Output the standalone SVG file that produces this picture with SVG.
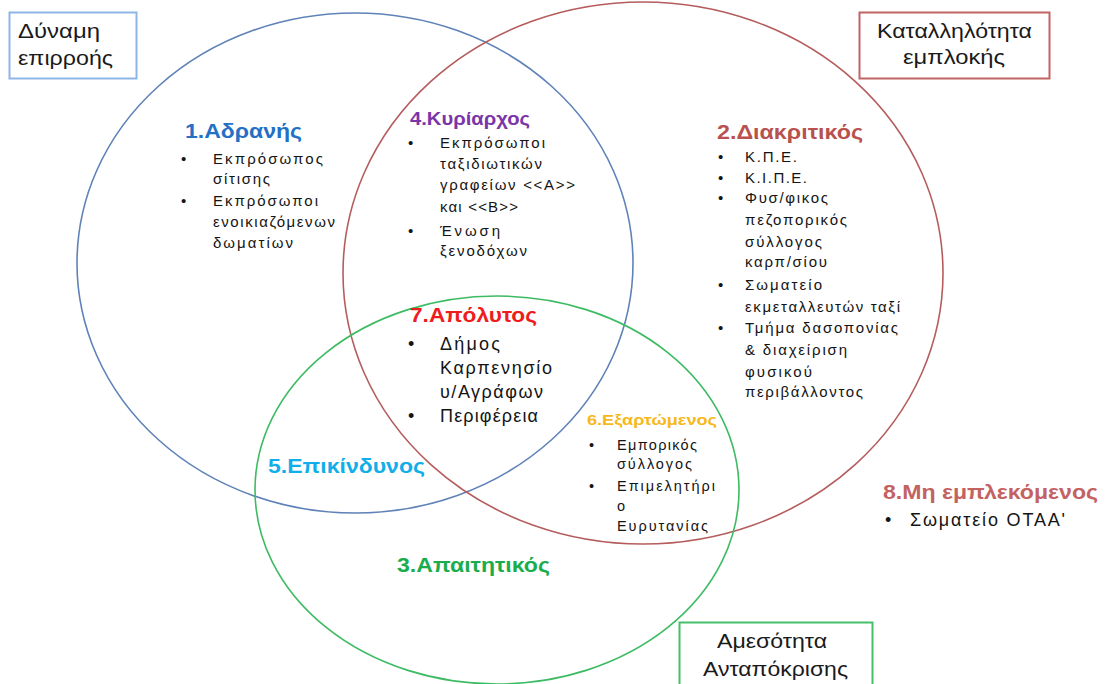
<svg xmlns="http://www.w3.org/2000/svg" width="1107" height="684" viewBox="0 0 1107 684">
  <style>
    text { font-family: "Liberation Sans", Arial, sans-serif; }
    .ring { fill: none; stroke-width: 1.6; }
    .box { fill: #ffffff; stroke-width: 2; }
    .boxtxt { font-size: 20px; fill: #1a1a1a; }
    .title { font-weight: bold; }
    .body { fill: #141414; }
    .b15 { font-size: 15px; }
    .b14 { font-size: 14.5px; }
    .b18 { font-size: 18px; }
  </style>
  <rect width="1107" height="684" fill="#ffffff"/>

  <!-- the three overlapping attribute sets -->
  <g id="sets">
    <ellipse id="set-power" class="ring" cx="355" cy="263" rx="278" ry="250" stroke="#5f82b8"/>
    <ellipse id="set-legitimacy" class="ring" cx="643" cy="273" rx="300" ry="271" stroke="#b55d5d"/>
    <ellipse id="set-urgency" class="ring" cx="497" cy="490" rx="242" ry="194" stroke="#3dbb62"/>
  </g>

  <!-- attribute captions -->
  <g id="caption-power">
    <rect class="box" x="9.5" y="12.5" width="127" height="66" stroke="#8db6e8"/>
    <text class="boxtxt" x="18" y="38" textLength="82" lengthAdjust="spacingAndGlyphs">Δύναμη</text>
    <text class="boxtxt" x="18" y="65" textLength="95" lengthAdjust="spacingAndGlyphs">επιρροής</text>
  </g>
  <g id="caption-legitimacy">
    <rect class="box" x="859.5" y="12.5" width="190" height="66" stroke="#c06464"/>
    <text class="boxtxt" x="877" y="38" textLength="155" lengthAdjust="spacingAndGlyphs">Καταλληλότητα</text>
    <text class="boxtxt" x="903" y="64" textLength="102" lengthAdjust="spacingAndGlyphs">εμπλοκής</text>
  </g>
  <g id="caption-urgency">
    <rect class="box" x="679.5" y="622.5" width="193" height="80" stroke="#45bf6a"/>
    <text class="boxtxt" x="717" y="648" textLength="110" lengthAdjust="spacingAndGlyphs">Αμεσότητα</text>
    <text class="boxtxt" x="703" y="676" textLength="145" lengthAdjust="spacingAndGlyphs">Ανταπόκρισης</text>
  </g>

  <!-- 1: power only -->
  <g id="dormant">
    <text class="title" x="185" y="138" font-size="21" fill="#2370c4" textLength="117" lengthAdjust="spacingAndGlyphs">1.Αδρανής</text>
    <g class="body b15">
      <text x="181" y="164">•</text>
      <text x="213" y="164" textLength="110" lengthAdjust="spacing">Εκπρόσωπος</text>
      <text x="213" y="184" textLength="57" lengthAdjust="spacing">σίτισης</text>
      <text x="181" y="206">•</text>
      <text x="213" y="206" textLength="105" lengthAdjust="spacing">Εκπρόσωποι</text>
      <text x="213" y="227" textLength="122" lengthAdjust="spacing">ενοικιαζόμενων</text>
      <text x="213" y="248" textLength="80" lengthAdjust="spacing">δωματίων</text>
    </g>
  </g>

  <!-- 2: legitimacy only -->
  <g id="discretionary">
    <text class="title" x="717" y="139" font-size="20" fill="#b9524e" textLength="146" lengthAdjust="spacingAndGlyphs">2.Διακριτικός</text>
    <g class="body b15">
      <text x="718" y="162">•</text>
      <text x="745" y="162" textLength="52" lengthAdjust="spacing">Κ.Π.Ε.</text>
      <text x="718" y="183">•</text>
      <text x="745" y="183" textLength="62" lengthAdjust="spacing">Κ.Ι.Π.Ε.</text>
      <text x="718" y="203">•</text>
      <text x="745" y="203" textLength="83" lengthAdjust="spacing">Φυσ/φικος</text>
      <text x="745" y="225" textLength="102" lengthAdjust="spacing">πεζοπορικός</text>
      <text x="745" y="247" textLength="77" lengthAdjust="spacing">σύλλογος</text>
      <text x="745" y="267" textLength="82" lengthAdjust="spacing">καρπ/σίου</text>
      <text x="718" y="290">•</text>
      <text x="745" y="290" textLength="77" lengthAdjust="spacing">Σωματείο</text>
      <text x="745" y="312" textLength="155" lengthAdjust="spacing">εκμεταλλευτών ταξί</text>
      <text x="718" y="333">•</text>
      <text x="745" y="333" textLength="153" lengthAdjust="spacing">Τμήμα δασοπονίας</text>
      <text x="745" y="355" textLength="102" lengthAdjust="spacing">&amp; διαχείριση</text>
      <text x="745" y="377" textLength="67" lengthAdjust="spacing">φυσικού</text>
      <text x="745" y="397" textLength="118" lengthAdjust="spacing">περιβάλλοντος</text>
    </g>
  </g>

  <!-- 3: urgency only -->
  <g id="demanding">
    <text class="title" x="397" y="572" font-size="20" fill="#1aad4e" textLength="153" lengthAdjust="spacingAndGlyphs">3.Απαιτητικός</text>
  </g>

  <!-- 4: power + legitimacy -->
  <g id="dominant">
    <text class="title" x="410" y="125" font-size="18" fill="#7a35a8" textLength="120" lengthAdjust="spacingAndGlyphs">4.Κυρίαρχος</text>
    <g class="body b15">
      <text x="408" y="148">•</text>
      <text x="440" y="148" textLength="105" lengthAdjust="spacing">Εκπρόσωποι</text>
      <text x="440" y="169" textLength="102" lengthAdjust="spacing">ταξιδιωτικών</text>
      <text x="440" y="190" textLength="135" lengthAdjust="spacing">γραφείων &lt;&lt;Α&gt;&gt;</text>
      <text x="440" y="212" textLength="78" lengthAdjust="spacing">και &lt;&lt;Β&gt;&gt;</text>
      <text x="408" y="236">•</text>
      <text x="440" y="236" textLength="60" lengthAdjust="spacing">Ένωση</text>
      <text x="440" y="256" textLength="87" lengthAdjust="spacing">ξενοδόχων</text>
    </g>
  </g>

  <!-- 5: power + urgency -->
  <g id="dangerous">
    <text class="title" x="268" y="473" font-size="20" fill="#12aeea" textLength="157" lengthAdjust="spacingAndGlyphs">5.Επικίνδυνος</text>
  </g>

  <!-- 6: legitimacy + urgency -->
  <g id="dependent">
    <text class="title" x="587" y="425" font-size="15" fill="#f7b81c" textLength="130" lengthAdjust="spacingAndGlyphs">6.Εξαρτώμενος</text>
    <g class="body b14">
      <text x="589" y="450">•</text>
      <text x="617" y="450" textLength="80" lengthAdjust="spacing">Εμπορικός</text>
      <text x="617" y="469" textLength="75" lengthAdjust="spacing">σύλλογος</text>
      <text x="589" y="491">•</text>
      <text x="617" y="491" textLength="98" lengthAdjust="spacing">Επιμελητήρι</text>
      <text x="617" y="511">ο</text>
      <text x="617" y="531" textLength="91" lengthAdjust="spacing">Ευρυτανίας</text>
    </g>
  </g>

  <!-- 7: all three -->
  <g id="definitive">
    <text class="title" x="410" y="322" font-size="21" fill="#ee1c1c" textLength="127" lengthAdjust="spacingAndGlyphs">7.Απόλυτος</text>
    <g class="body b18">
      <text x="408" y="350">•</text>
      <text x="440" y="350" textLength="60" lengthAdjust="spacing">Δήμος</text>
      <text x="440" y="374" textLength="112" lengthAdjust="spacing">Καρπενησίο</text>
      <text x="440" y="398" textLength="103" lengthAdjust="spacing">υ/Αγράφων</text>
      <text x="408" y="422">•</text>
      <text x="440" y="422" textLength="98" lengthAdjust="spacing">Περιφέρεια</text>
    </g>
  </g>

  <!-- 8: outside every set -->
  <g id="non-stakeholder">
    <text class="title" x="883" y="499" font-size="20" fill="#c46262" textLength="215" lengthAdjust="spacingAndGlyphs">8.Μη εμπλεκόμενος</text>
    <g class="body b18">
      <text x="885" y="526">•</text>
      <text x="910" y="526" textLength="155" lengthAdjust="spacing">Σωματείο ΟΤΑΑ'</text>
    </g>
  </g>
</svg>
